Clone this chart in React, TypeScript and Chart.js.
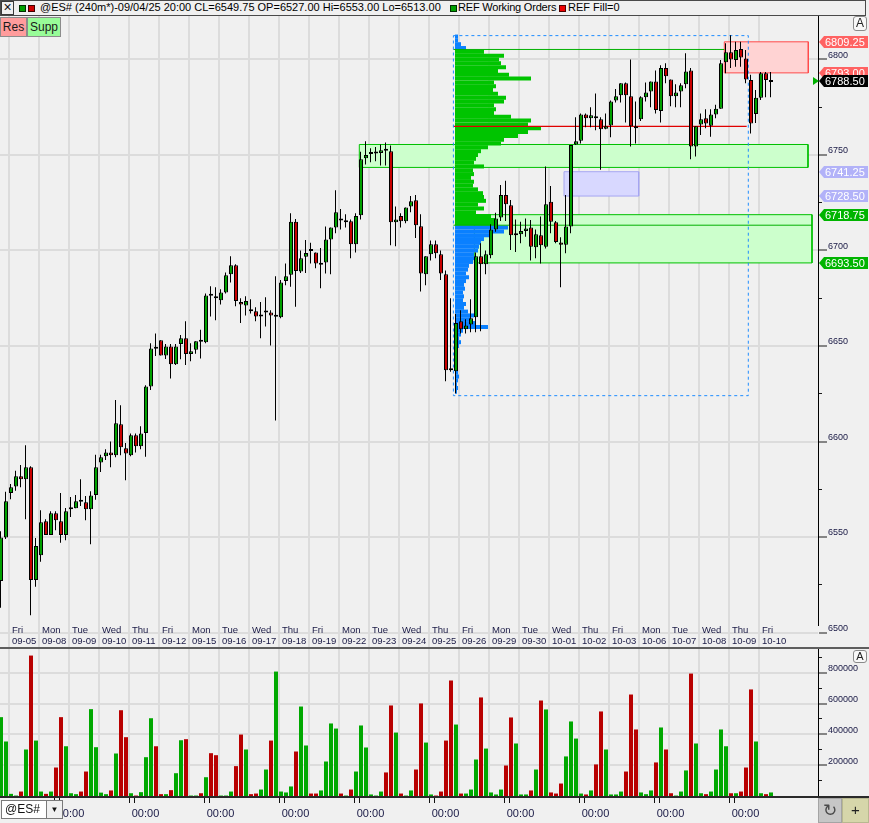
import React, { useEffect, useRef } from 'react';
import { Chart, registerables } from 'chart.js';

Chart.register(...registerables);

const FONT = '"Liberation Sans", Arial, sans-serif';

// ---------------- DATA ----------------
// 240-minute bars of @ES#, first bar = 09/04/25 20:00
const opens = [
  6527, 6549.75, 6573, 6576.5, 6581.75, 6580.25, 6586.5, 6527.5, 6540.5, 6558.25,
  6551, 6562.5, 6558.25, 6551, 6564.5, 6565, 6568.75, 6568.25, 6564.5, 6572,
  6589, 6592.25, 6594.25, 6592.75, 6609, 6596.5, 6592.75, 6603.25, 6597.5, 6604.5,
  6628.75, 6648.75, 6653, 6645, 6649.75, 6640.5, 6651, 6654, 6645.75, 6648,
  6652.5, 6652, 6676.5, 6676, 6674, 6678, 6687.5, 6692.25, 6673, 6671.25,
  6669.25, 6668.25, 6665.5, 6667.5, 6667.5, 6665.25, 6665, 6684, 6687.25, 6715,
  6689, 6696.75, 6700, 6699, 6692.5, 6693.75, 6705.75, 6712, 6716, 6714.75,
  6715.25, 6703.25, 6718.5, 6748.25, 6750.5, 6750.75, 6751, 6752.5, 6752, 6714.75,
  6718, 6715.25, 6723, 6726.25, 6712.75, 6687.5, 6698, 6703.25, 6698, 6687.5,
  6637.5, 6636.75, 6663, 6658.75, 6661.25, 6665, 6697, 6692.75, 6697.5, 6711,
  6717.25, 6729, 6723.75, 6708, 6708.5, 6710.25, 6712, 6701.75, 6708, 6702,
  6725.5, 6714.75, 6704.25, 6703, 6712.5, 6755.5, 6757.5, 6771.25, 6769.25, 6770.25,
  6768.75, 6763.75, 6765.5, 6778.5, 6781.25, 6787.5, 6780.75, 6764.5, 6768.75, 6780.25,
  6783.25, 6788.5, 6773, 6795.5, 6789.5, 6780.75, 6783.25, 6787, 6794.25, 6754.5,
  6766, 6769.25, 6765.25, 6771.25, 6774.25, 6798.5, 6803.75, 6799.75, 6805.5, 6800.5,
  6789.25, 6771.5, 6780, 6792.75, 6788.25,
];
const highs = [
  6553, 6573.75, 6577.75, 6584.75, 6587.75, 6598, 6587, 6549.5, 6564, 6559.25,
  6563.5, 6563.5, 6573, 6565.25, 6571, 6572, 6580.25, 6571.5, 6574, 6593,
  6593, 6596, 6600, 6621.75, 6619, 6599.25, 6604.25, 6604.25, 6608, 6629.5,
  6651.5, 6656.5, 6653, 6651, 6651, 6651, 6655.75, 6663, 6651.5, 6652.5,
  6658.5, 6677.5, 6681.25, 6680.75, 6679.75, 6688.5, 6697, 6692.75, 6675, 6676,
  6674.5, 6670.25, 6673, 6675.5, 6668.75, 6686.5, 6684.5, 6693.25, 6719.5, 6716.5,
  6700, 6705.5, 6704, 6699, 6701.25, 6712.5, 6712, 6731.5, 6721.75, 6719,
  6716.25, 6719.5, 6751.75, 6757.25, 6753.5, 6754.25, 6755.5, 6756.5, 6755, 6723,
  6719.5, 6722.5, 6728.5, 6729, 6719, 6697, 6705.25, 6705.25, 6700, 6689.5,
  6675, 6666.75, 6668.75, 6664, 6674.5, 6699, 6703.75, 6700, 6713.75, 6719.75,
  6734.25, 6736.5, 6726.5, 6716.25, 6715, 6716.75, 6716, 6711, 6717.75, 6744,
  6733.75, 6715.5, 6707, 6729, 6755.25, 6769.75, 6771.75, 6771.75, 6775, 6782.25,
  6769.75, 6771.75, 6778.5, 6784.5, 6787.5, 6788, 6800, 6778, 6780.75, 6788,
  6788.5, 6794.25, 6797, 6798, 6789.5, 6787, 6787.5, 6803.25, 6795.5, 6765,
  6771.75, 6774, 6774, 6776.25, 6799.75, 6808.5, 6812.75, 6809.25, 6809.25, 6805,
  6792, 6784, 6793.5, 6793.5, 6793.5,
];
const lows = [
  6513, 6549, 6569.75, 6574.25, 6576, 6559.25, 6509, 6524, 6537, 6551,
  6551, 6553.5, 6547, 6548.25, 6560.5, 6565, 6566.25, 6558.75, 6546.25, 6569.5,
  6584, 6590.25, 6586.5, 6591.75, 6592.75, 6579.75, 6592.25, 6594.25, 6596, 6592,
  6627, 6644.75, 6645, 6643.25, 6633, 6640, 6643, 6640, 6642, 6646,
  6643.5, 6651.5, 6665.5, 6663.5, 6671.75, 6677.5, 6683.25, 6670.75, 6662, 6666,
  6667, 6663, 6654, 6660.25, 6650.25, 6611, 6664.5, 6681.75, 6681, 6670.5,
  6688.25, 6688.25, 6693.25, 6690.75, 6680.25, 6688, 6687.5, 6709, 6711, 6712,
  6696, 6699, 6716.25, 6745, 6746.25, 6746.75, 6744.5, 6744.5, 6702.75, 6702.25,
  6712, 6714.25, 6720, 6706.5, 6678.5, 6681.75, 6694.75, 6696, 6684.5, 6631.5,
  6636.5, 6625.25, 6656.5, 6656.5, 6657.25, 6657.25, 6657.75, 6687.5, 6696, 6709.75,
  6715.5, 6715.5, 6700.25, 6699.25, 6703.75, 6707.25, 6694.75, 6696, 6693.25, 6701,
  6709, 6703.75, 6680.75, 6698.5, 6709, 6755.25, 6756, 6764.5, 6764.5, 6763,
  6742.25, 6763.5, 6759.25, 6777.5, 6777.5, 6767, 6754.5, 6756, 6767.75, 6778,
  6775, 6771.75, 6767, 6787.5, 6775.5, 6775, 6775, 6785, 6747.75, 6749.25,
  6760.5, 6764, 6759.5, 6769.25, 6774.25, 6792.75, 6795.5, 6796.25, 6796.25, 6787.5,
  6761.25, 6766.75, 6778.75, 6780.25, 6780.25,
];
const closes = [
  6549.75, 6568.75, 6576, 6581.75, 6580.25, 6586.5, 6527.5, 6545.25, 6557.75, 6551,
  6562.5, 6558.75, 6551, 6563.5, 6564.75, 6568.75, 6568.5, 6564.5, 6571.75, 6586.5,
  6591.75, 6594.25, 6592.75, 6609.5, 6597, 6593.75, 6603.25, 6597.5, 6604.25, 6628.75,
  6648.75, 6648.5, 6645, 6649.75, 6640.5, 6649.75, 6654, 6645.75, 6647.25, 6652.5,
  6652.25, 6676.5, 6676.25, 6675, 6678, 6687, 6692.25, 6673.5, 6671.75, 6673.5,
  6668.25, 6665.5, 6666.5, 6667.75, 6666, 6665.5, 6683.25, 6686.5, 6715, 6689.25,
  6696, 6698.75, 6699.75, 6693.25, 6692.75, 6705.75, 6712, 6720, 6715.75, 6714.75,
  6703.25, 6718, 6747.75, 6750, 6750.75, 6750.75, 6752.5, 6752.25, 6714.75, 6716.25,
  6715.25, 6722.5, 6725.75, 6713.25, 6688, 6697, 6703.25, 6698.5, 6688, 6637.25,
  6637.25, 6662, 6658.75, 6660.75, 6664.5, 6697, 6692.75, 6698, 6711, 6716.75,
  6729, 6724.25, 6708, 6708.25, 6710.25, 6711.5, 6702, 6708.5, 6702.75, 6724.25,
  6715, 6704.5, 6703, 6712.5, 6755.25, 6757.25, 6771.25, 6769.25, 6770.75, 6769.25,
  6763.5, 6765, 6778, 6780.75, 6787.5, 6781.25, 6765, 6764, 6780.25, 6782.75,
  6788.5, 6773.5, 6795.5, 6791.25, 6780.75, 6782.75, 6786.5, 6793.75, 6754.5, 6765,
  6768.75, 6766.5, 6771.25, 6774.25, 6798, 6803.75, 6800, 6805, 6801, 6789.5,
  6766.5, 6780, 6792.75, 6789.25, 6788.5,
];
// volume per bar, thousands of contracts
const volumeK = [
  512, 354, 14, 3, 29, 302, 912, 360, 29, 14,
  29, 185, 512, 323, 18, 12, 29, 159, 564, 317,
  22, 12, 36, 276, 557, 382, 18, 3, 25, 252,
  505, 323, 12, 12, 38, 148, 362, 369, 3, 3,
  18, 122, 278, 265, 3, 3, 29, 194, 399, 302,
  12, 16, 42, 172, 360, 808, 29, 23, 62, 289,
  581, 328, 16, 16, 36, 224, 471, 438, 16, 3,
  42, 159, 458, 315, 10, 3, 29, 153, 588, 412,
  16, 3, 36, 172, 601, 347, 10, 3, 29, 360,
  750, 464, 16, 16, 42, 237, 640, 308, 23, 10,
  42, 198, 510, 341, 10, 10, 36, 172, 620, 562,
  23, 16, 81, 257, 484, 373, 16, 10, 36, 205,
  549, 302, 10, 10, 29, 159, 659, 432, 23, 12,
  36, 218, 445, 302, 18, 3, 29, 166, 795, 341,
  18, 12, 29, 172, 432, 323, 18, 18, 29, 185,
  692, 354, 18, 12, 23,
];

const dayLabels = [
  ['Fri', '09-05'], ['Mon', '09-08'], ['Tue', '09-09'], ['Wed', '09-10'], ['Thu', '09-11'],
  ['Fri', '09-12'], ['Mon', '09-15'], ['Tue', '09-16'], ['Wed', '09-17'], ['Thu', '09-18'],
  ['Fri', '09-19'], ['Mon', '09-22'], ['Tue', '09-23'], ['Wed', '09-24'], ['Thu', '09-25'],
  ['Fri', '09-26'], ['Mon', '09-29'], ['Tue', '09-30'], ['Wed', '10-01'], ['Thu', '10-02'],
  ['Fri', '10-03'], ['Mon', '10-06'], ['Tue', '10-07'], ['Wed', '10-08'], ['Thu', '10-09'],
  ['Fri', '10-10'],
];
const firstDayBar = 2;
const barsPerDay = 6;

const priceTickValues = [6500, 6525, 6550, 6575, 6600, 6625, 6650, 6675, 6700, 6725, 6750, 6775, 6800];
const volumeTickValues = [100000, 200000, 300000, 400000, 500000, 600000, 700000, 800000, 900000];
const timeLabels = ['00:00', '00:00', '00:00', '00:00', '00:00', '00:00', '00:00', '00:00', '00:00', '00:00'];

// volume profile (rows of 2 points from the top price), relative volume units
const profileTopPrice = 6812;
const profileStepPrice = 2;
const profileVolume = [
  3, 3, 6, 11, 29, 49, 44, 46, 51, 43,
  54, 76, 39, 41, 38, 43, 51, 49, 39, 41,
  39, 56, 76, 73, 86, 73, 63, 49, 46, 33,
  26, 23, 21, 19, 29, 18, 19, 16, 19, 18,
  23, 28, 29, 31, 23, 29, 21, 36, 41, 43,
  53, 49, 36, 29, 26, 24, 23, 19, 21, 18,
  14, 13, 11, 14, 11, 9, 10, 8, 9, 8,
  11, 9, 13, 19, 16, 21, 33, 8, 6, 4,
  6, 4, 3, 2, 3, 3, 2, 3, 3, 4,
  3, 2, 3, 2,
];
const profileValueAreaHigh = 6805;
const profileValueAreaLow = 6713;
const profileFromBar = 90.9;
const profileBoxFromBar = 90.58;
const profileBoxToBar = 149.56;
const profileBoxHigh = 6812.5;
const profileBoxLow = 6624;
const pocPrice = 6765;
const pocToBar = 149.24;
const refLinePrices = [6805.25, 6713.25];
const refLineToBar = [144.76, 162.3];

// zones (support / resistance / pending)
const zoneKinds = ['res', 'supp', 'pending', 'supp'];
const zoneFromBar = [144.76, 71.76, 112.7, 94.76];
const zoneToBar = [161.56, 161.5, 127.64, 162.3];
const zoneHigh = [6809.25, 6755.5, 6741.25, 6718.75];
const zoneLow = [6793.0, 6743.5, 6728.5, 6693.5];

// right axis price tags
const tagPrices = [6809.25, 6793.0, 6741.25, 6728.5, 6718.75, 6693.5];
const tagKinds = ['res', 'res', 'pending', 'pending', 'supp', 'supp'];

// ---------------- STYLE / LAYOUT ----------------
const KIND_STYLE: Record<string, { fill: string; border: string; tag: string }> = {
  res: { fill: '#ffd3d3', border: '#ff4a4a', tag: '#ff6262' },
  supp: { fill: '#ccffcc', border: '#00c000', tag: '#00b400' },
  pending: { fill: '#d8d8ff', border: '#a6a6f2', tag: '#b2b2f8' },
};
const UP = '#00a000';
const DOWN = '#c80000';
const AXIS_TEXT = '#181844';
const GRID = '#dcdcdc';
const PROFILE_BARS_PER_UNIT = 0.2;

// x mapping: wick axis pixel = 0.5 + 5*i ; body axis pixel = 1 + 5*i (plot width 818)
const X_MIN = -0.1, X_MAX = 163.5;
const XB_MIN = -0.2, XB_MAX = 163.4;
// main plot area spans page y 16..625 (date strip below)
const Y_MIN = 6503.93, Y_MAX = 6822.77;
const VOL_MIN = 0, VOL_MAX = 954545;
const DATE_STRIP = 23;

const isUp = (i: number) => closes[i] >= opens[i];
const barIdx = closes.map((_, i) => i);

const tagPlugin = {
  id: 'priceTags',
  afterDraw(chart: any) {
    const ys = chart.scales.y;
    const ctx = chart.ctx;
    const x0 = chart.chartArea.right;
    const draw = (price: number, bg: string) => {
      const py = Math.round(ys.getPixelForValue(price));
      ctx.save();
      ctx.beginPath();
      ctx.moveTo(x0 + 1, py);
      ctx.lineTo(x0 + 6, py - 6);
      ctx.lineTo(x0 + 50, py - 6);
      ctx.lineTo(x0 + 50, py + 6);
      ctx.lineTo(x0 + 6, py + 6);
      ctx.closePath();
      ctx.fillStyle = bg;
      ctx.fill();
      ctx.fillStyle = '#ffffff';
      ctx.font = `11px ${FONT}`;
      ctx.textAlign = 'left';
      ctx.textBaseline = 'middle';
      ctx.fillText(price.toFixed(2), x0 + 7, py + 1);
      ctx.restore();
    };
    tagPrices.forEach((p, k) => draw(p, KIND_STYLE[tagKinds[k]].tag));
    const last = closes[closes.length - 1];
    const ly = Math.round(ys.getPixelForValue(last));
    ctx.save();
    ctx.beginPath();
    ctx.moveTo(x0 - 5, ly - 4);
    ctx.lineTo(x0 + 1, ly);
    ctx.lineTo(x0 - 5, ly + 4);
    ctx.closePath();
    ctx.fillStyle = '#00b000';
    ctx.fill();
    ctx.restore();
    draw(last, '#000000');
  },
};

function dayTicks(offset: number) {
  return dayLabels.map((_, k) => ({ value: firstDayBar + offset + barsPerDay * k }));
}

function buildMainConfig(): any {
  const datasets: any[] = [];
  zoneKinds.forEach((kind, z) => {
    const st = KIND_STYLE[kind];
    datasets.push({
      type: 'line', xAxisID: 'x', yAxisID: 'y', order: 30,
      data: [{ x: zoneFromBar[z], y: zoneHigh[z] }, { x: zoneToBar[z], y: zoneHigh[z] }],
      fill: { value: zoneLow[z] }, backgroundColor: st.fill,
      borderColor: 'rgba(0,0,0,0)', borderWidth: 0, pointRadius: 0, pointHoverRadius: 0,
    });
    datasets.push({
      type: 'line', xAxisID: 'x', yAxisID: 'y', order: 29,
      data: [
        { x: zoneFromBar[z], y: zoneHigh[z] }, { x: zoneToBar[z], y: zoneHigh[z] },
        { x: zoneToBar[z], y: zoneLow[z] }, { x: zoneFromBar[z], y: zoneLow[z] },
        { x: zoneFromBar[z], y: zoneHigh[z] },
      ],
      fill: false, borderColor: st.border, borderWidth: 1, pointRadius: 0, pointHoverRadius: 0,
    });
  });

  datasets.push({
    type: 'bar', indexAxis: 'y', xAxisID: 'xp', yAxisID: 'y', order: 20,
    data: profileVolume.map((v, k) => ({
      y: profileTopPrice - k * profileStepPrice,
      x: [profileFromBar, profileFromBar + v * PROFILE_BARS_PER_UNIT],
    })),
    backgroundColor: profileVolume.map((_, k) => {
      const p = profileTopPrice - k * profileStepPrice;
      return p > profileValueAreaLow && p < profileValueAreaHigh ? '#00c400' : '#0a80ff';
    }),
    barThickness: 4, inflateAmount: 0, borderWidth: 0,
  });

  refLinePrices.forEach((p, k) => {
    datasets.push({
      type: 'line', xAxisID: 'x', yAxisID: 'y', order: 12,
      data: [{ x: profileBoxFromBar, y: p }, { x: refLineToBar[k], y: p }],
      fill: false, borderColor: '#00b000', borderWidth: 1, pointRadius: 0, pointHoverRadius: 0,
    });
  });
  datasets.push({
    type: 'line', xAxisID: 'x', yAxisID: 'y', order: 11,
    data: [{ x: profileBoxFromBar, y: pocPrice }, { x: pocToBar, y: pocPrice }],
    fill: false, borderColor: '#e00000', borderWidth: 1.3, pointRadius: 0, pointHoverRadius: 0,
  });
  datasets.push({
    type: 'line', xAxisID: 'x', yAxisID: 'y', order: 10,
    data: [
      { x: profileBoxFromBar, y: profileBoxHigh }, { x: profileBoxToBar, y: profileBoxHigh },
      { x: profileBoxToBar, y: profileBoxLow }, { x: profileBoxFromBar, y: profileBoxLow },
      { x: profileBoxFromBar, y: profileBoxHigh },
    ],
    fill: false, borderColor: '#1e8cff', borderWidth: 1, borderDash: [3, 3],
    pointRadius: 0, pointHoverRadius: 0,
  });

  datasets.push({
    type: 'bar', xAxisID: 'x', yAxisID: 'y', order: 2,
    data: barIdx.map((i) => ({ x: i, y: [lows[i], highs[i]] })),
    backgroundColor: '#000000', borderWidth: 0,
    grouped: false, maxBarThickness: 1, barPercentage: 1, categoryPercentage: 1, inflateAmount: 0,
  });
  datasets.push({
    type: 'bar', xAxisID: 'xb', yAxisID: 'y', order: 1,
    data: barIdx.map((i) => ({ x: i, y: [opens[i], closes[i]] })),
    backgroundColor: barIdx.map((i) => (isUp(i) ? UP : DOWN)),
    borderColor: '#000000', borderWidth: 1, borderSkipped: false, minBarLength: 2,
    grouped: false, maxBarThickness: 4, barPercentage: 1, categoryPercentage: 1, inflateAmount: 0,
  });

  return {
    type: 'bar',
    data: { datasets },
    plugins: [tagPlugin],
    options: {
      responsive: false, maintainAspectRatio: false, animation: false, devicePixelRatio: 1,
      events: [],
      layout: { padding: 0, autoPadding: false },
      plugins: { legend: { display: false }, tooltip: { enabled: false } },
      scales: {
        x: {
          type: 'linear', position: 'bottom', min: X_MIN, max: X_MAX, offset: false,
          afterBuildTicks: (s: any) => { s.ticks = dayTicks(-0.3); },
          afterFit: (s: any) => { s.height = DATE_STRIP; s.paddingLeft = 0; s.paddingRight = 0; },
          ticks: {
            autoSkip: false, maxRotation: 0, minRotation: 0, align: 'start', labelOffset: 3,
            padding: -DATE_STRIP, color: AXIS_TEXT, font: { family: FONT, size: 9.5, lineHeight: 1.15 },
            callback: (_v: any, k: number) => dayLabels[k],
          },
          grid: {
            color: GRID, lineWidth: 2, drawTicks: true, tickLength: DATE_STRIP,
            tickColor: GRID, tickWidth: 2, offset: false,
          },
          border: { display: false },
        },
        xb: { type: 'linear', display: false, min: XB_MIN, max: XB_MAX, offset: false, grid: { offset: false } },
        xp: { type: 'linear', display: false, min: X_MIN, max: X_MAX, offset: false, grid: { offset: false } },
        y: {
          type: 'linear', position: 'right', min: Y_MIN, max: Y_MAX, offset: false,
          afterBuildTicks: (s: any) => { s.ticks = priceTickValues.map((v) => ({ value: v })); },
          afterFit: (s: any) => { s.width = 51; s.paddingTop = 0; s.paddingBottom = 0; },
          ticks: {
            autoSkip: false, padding: 1, labelOffset: -4, color: AXIS_TEXT,
            font: { family: FONT, size: 9 },
            callback: (v: any) => (Number(v) % 50 === 0 ? String(v) : ''),
          },
          grid: {
            offset: false,
            color: (c: any) => (c.tick && c.tick.value % 50 === 0 ? GRID : 'rgba(0,0,0,0)'),
            lineWidth: (c: any) => (c.tick && c.tick.value % 50 === 0 ? 2 : 1),
            tickLength: 9, tickWidth: 1, tickColor: '#1a1a1a',
            tickBorderDash: (c: any) => (c.tick && c.tick.value % 50 === 0 ? [] : [3, 40]),
          },
          border: { display: true, color: '#000000', width: 1 },
        },
      },
    },
  };
}

function buildVolumeConfig(): any {
  return {
    type: 'bar',
    data: {
      datasets: [{
        data: barIdx.map((i) => ({ x: i, y: volumeK[i] * 1000 })),
        backgroundColor: barIdx.map((i) => (isUp(i) ? '#00a800' : '#b80000')),
        borderWidth: 0, grouped: false, maxBarThickness: 4, barPercentage: 1,
        categoryPercentage: 1, inflateAmount: 0,
      }],
    },
    options: {
      responsive: false, maintainAspectRatio: false, animation: false, devicePixelRatio: 1,
      events: [],
      layout: { padding: 0, autoPadding: false },
      plugins: { legend: { display: false }, tooltip: { enabled: false } },
      scales: {
        x: {
          type: 'linear', position: 'bottom', min: XB_MIN, max: XB_MAX, offset: false,
          afterBuildTicks: (s: any) => { s.ticks = dayTicks(-0.4); },
          afterFit: (s: any) => { s.height = 0; s.paddingLeft = 0; s.paddingRight = 0; },
          ticks: { display: false },
          grid: { color: GRID, lineWidth: 2, drawTicks: false, offset: false },
          border: { display: false },
        },
        y: {
          type: 'linear', position: 'right', min: VOL_MIN, max: VOL_MAX, offset: false,
          afterBuildTicks: (s: any) => { s.ticks = volumeTickValues.map((v) => ({ value: v })); },
          afterFit: (s: any) => { s.width = 51; s.paddingTop = 0; s.paddingBottom = 0; },
          ticks: {
            autoSkip: false, padding: 1, labelOffset: -4, color: AXIS_TEXT,
            font: { family: FONT, size: 9 },
            callback: (v: any) => (Number(v) % 200000 === 0 ? String(v) : ''),
          },
          grid: {
            offset: false,
            color: (c: any) => (c.tick && c.tick.value % 200000 === 0 ? GRID : 'rgba(0,0,0,0)'),
            lineWidth: (c: any) => (c.tick && c.tick.value % 200000 === 0 ? 2 : 1),
            tickLength: 9, tickWidth: 1, tickColor: '#1a1a1a',
            tickBorderDash: (c: any) => (c.tick && c.tick.value % 200000 === 0 ? [] : [3, 40]),
          },
          border: { display: true, color: '#000000', width: 1 },
        },
      },
    },
  };
}

const abs = (l: number, t: number, w: number, h: number, extra: any = {}) => ({
  position: 'absolute' as const, left: l, top: t, width: w, height: h, boxSizing: 'border-box' as const, ...extra,
});

export default function App() {
  const mainRef = useRef<HTMLCanvasElement | null>(null);
  const volRef = useRef<HTMLCanvasElement | null>(null);

  useEffect(() => {
    const main = new Chart(mainRef.current as HTMLCanvasElement, buildMainConfig());
    const vol = new Chart(volRef.current as HTMLCanvasElement, buildVolumeConfig());
    return () => {
      main.destroy();
      vol.destroy();
    };
  }, []);

  const textStyle = { fontFamily: FONT, fontSize: 11, lineHeight: '13px', color: '#000', whiteSpace: 'nowrap' as const };

  return (
    <div style={{ position: 'absolute', left: 0, top: 0, width: 869, height: 823, background: '#f0f0f0', overflow: 'hidden', fontFamily: FONT }}>
      {/* header */}
      <div style={abs(0, 0, 866, 16, { border: '1px solid #4a4a4a', background: '#f0f0f0' })} />
      <div style={abs(1, 1, 13, 14, { border: '1px solid #3a3a3a', fontSize: 14, lineHeight: '11px', textAlign: 'center', color: '#111' })}>×</div>
      <div style={abs(19, 5, 7, 7, { background: '#00a000', border: '1px solid #003000' })} />
      <div style={abs(28, 5, 7, 7, { background: '#d00000', border: '1px solid #400000' })} />
      <div style={{ position: 'absolute', left: 40, top: 1, ...textStyle }}>@ES# (240m*)-09/04/25 20:00 CL=6549.75 OP=6527.00 Hi=6553.00 Lo=6513.00</div>
      <div style={abs(450, 5, 7, 7, { background: '#00a000', border: '1px solid #003000' })} />
      <div style={{ position: 'absolute', left: 458, top: 1, ...textStyle, letterSpacing: '-0.2px' }}>REF Working Orders</div>
      <div style={abs(559, 5, 7, 7, { background: '#ee0000', border: '1px solid #500000' })} />
      <div style={{ position: 'absolute', left: 568, top: 1, ...textStyle }}>REF Fill=0</div>

      {/* price chart */}
      <canvas ref={mainRef} width={869} height={632} style={{ position: 'absolute', left: 0, top: 16, width: 869, height: 632 }} />

      <div style={abs(0, 17, 27, 20, { background: '#ff9c9c', border: '1px solid #8c8c8c', fontSize: 12, lineHeight: '18px', textAlign: 'center', color: '#1a1a1a' })}>Res</div>
      <div style={abs(27, 17, 34, 20, { background: '#98fc98', border: '1px solid #8c8c8c', fontSize: 12, lineHeight: '18px', textAlign: 'center', color: '#1a1a1a' })}>Supp</div>
      <div style={abs(853, 16, 14, 15, { background: '#f8f8f8', border: '1px solid #8a8a8a', borderRadius: 3, fontSize: 12, lineHeight: '13px', textAlign: 'center', color: '#222' })}>A</div>

      <div style={abs(0, 647, 869, 2, { background: '#5e5e5e' })} />

      {/* volume chart */}
      <canvas ref={volRef} width={869} height={147} style={{ position: 'absolute', left: 0, top: 649, width: 869, height: 147 }} />
      <div style={abs(853, 650, 14, 13, { background: '#f8f8f8', border: '1px solid #8a8a8a', borderRadius: 3, fontSize: 11, lineHeight: '11px', textAlign: 'center', color: '#222' })}>A</div>

      <div style={abs(0, 796, 869, 2, { background: '#2a2a2a' })} />

      {/* bottom time bar */}
      {timeLabels.map((t, k) => (
        <React.Fragment key={k}>
          <div style={abs(54 + 75 * k, 798, 1, 5, { background: '#111' })} />
          <div style={abs(59 + 75 * k, 798, 1, 5, { background: '#111' })} />
          <div style={{ position: 'absolute', left: 55.5 + 75 * k, top: 807, width: 30, textAlign: 'center', fontSize: 11, lineHeight: '13px', color: AXIS_TEXT }}>{t}</div>
        </React.Fragment>
      ))}
      <div style={abs(1, 800, 46, 19, { background: '#ffffff', border: '1px solid #7a7a7a', fontSize: 12, lineHeight: '17px', paddingLeft: 3, color: '#111' })}>@ES#</div>
      <div style={abs(46, 800, 17, 19, { background: '#f0f0f0', border: '1px solid #7a7a7a', fontSize: 8, lineHeight: '17px', textAlign: 'center', color: '#111' })}>▼</div>
      <div style={abs(818, 798, 24, 25, { background: '#c6c6c6', border: '1px solid #a4a4a4', fontSize: 17, lineHeight: '22px', textAlign: 'center', color: '#4a4a4a', fontFamily: '"DejaVu Sans", sans-serif' })}>↻</div>
      <div style={abs(842, 798, 27, 25, { background: '#d6d6aa', border: '1px solid #b8b890', fontSize: 15, lineHeight: '22px', textAlign: 'center', color: '#222' })}>+</div>
    </div>
  );
}
